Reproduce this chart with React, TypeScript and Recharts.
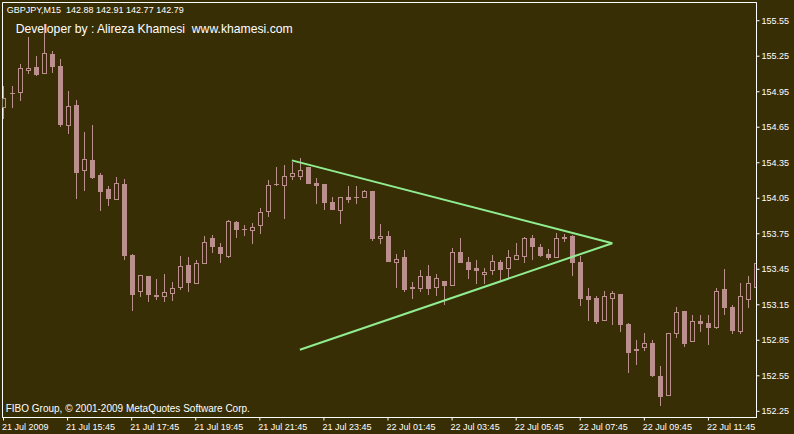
import { Bar, ComposedChart, ReferenceArea, ReferenceLine, XAxis, YAxis } from 'recharts'

const BG = '#382e06'
const CANDLE = '#bc8f8f'
const TREND = '#90ee90'
const FONT = '"Liberation Sans", Arial, sans-serif'

// GBPJPY M15, 21 Jul 2009 13:45 .. 22 Jul 2009 13:15
const opens = [
  154.82, 154.94, 154.95, 155.13, 155.16, 155.11, 155.27, 155.17, 154.67, 154.84,
  154.29, 154.37, 154.25, 154.13, 154.04, 154.17, 153.57, 153.27, 153.39, 153.23,
  153.22, 153.25, 153.3, 153.49, 153.33, 153.5, 153.71, 153.64, 153.56, 153.85,
  153.79, 153.78, 153.82, 153.94, 154.17, 154.16, 154.24, 154.24, 154.31, 154.18,
  154.17, 154.02, 153.95, 154.06, 154.06, 154.06, 154.11, 153.71, 153.73, 153.51,
  153.55, 153.3, 153.29, 153.39, 153.3, 153.35, 153.32, 153.6, 153.51, 153.46,
  153.41, 153.44, 153.51, 153.46, 153.54, 153.56, 153.71, 153.64, 153.58, 153.55,
  153.72, 153.73, 153.51, 153.22, 153.21, 153.02, 153.21, 153.24, 152.99, 152.78,
  152.79, 152.83, 152.55, 152.39, 152.91, 153.1, 152.84, 153.01, 153.0, 152.96,
  153.28, 153.13, 152.93, 153.2, 153.3,
]
const highs = [
  155.0, 155.0, 155.18, 155.41, 155.25, 155.52, 155.29, 155.23, 154.96, 154.88,
  154.61, 154.67, 154.26, 154.15, 154.23, 154.21, 153.58, 153.4, 153.39, 153.37,
  153.41, 153.34, 153.56, 153.55, 153.53, 153.73, 153.74, 153.67, 153.87, 153.86,
  153.82, 153.84, 153.97, 154.2, 154.31, 154.33, 154.36, 154.39, 154.31, 154.22,
  154.17, 154.06, 154.06, 154.15, 154.15, 154.12, 154.11, 153.83, 153.77, 153.58,
  153.61, 153.34, 153.44, 153.49, 153.41, 153.35, 153.63, 153.71, 153.55, 153.53,
  153.46, 153.57, 153.53, 153.61, 153.67, 153.72, 153.74, 153.66, 153.62, 153.76,
  153.75, 153.74, 153.56, 153.29, 153.22, 153.27, 153.27, 153.24, 153.0, 152.85,
  152.91, 152.85, 152.63, 152.91, 153.13, 153.1, 153.06, 153.06, 153.06, 153.29,
  153.45, 153.15, 153.33, 153.39, 153.63,
]
const lows = [
  154.73, 154.82, 154.88, 155.11, 155.09, 155.11, 155.12, 154.66, 154.6, 154.05,
  154.12, 154.22, 153.95, 153.99, 154.04, 153.54, 153.11, 153.22, 153.18, 153.2,
  153.18, 153.19, 153.28, 153.27, 153.33, 153.5, 153.6, 153.51, 153.55, 153.72,
  153.74, 153.67, 153.76, 153.9, 154.16, 153.88, 154.21, 154.21, 154.18, 154.01,
  153.96, 153.96, 153.84, 154.02, 154.01, 154.06, 153.7, 153.67, 153.52, 153.3,
  153.27, 153.21, 153.27, 153.24, 153.23, 153.16, 153.32, 153.51, 153.38, 153.33,
  153.33, 153.41, 153.36, 153.38, 153.54, 153.51, 153.54, 153.56, 153.54, 153.55,
  153.69, 153.4, 153.15, 153.02, 153.0, 153.02, 152.99, 152.93, 152.58, 152.65,
  152.77, 152.55, 152.3, 152.39, 152.88, 152.8, 152.84, 152.93, 152.82, 152.95,
  153.07, 152.91, 152.91, 153.13, 153.27,
]
const closes = [
  154.9, 154.94, 155.15, 155.15, 155.1, 155.28, 155.17, 154.68, 154.83, 154.27,
  154.38, 154.23, 154.11, 154.05, 154.18, 153.57, 153.24, 153.4, 153.24, 153.22,
  153.26, 153.29, 153.48, 153.34, 153.5, 153.68, 153.65, 153.59, 153.86, 153.79,
  153.79, 153.81, 153.93, 154.16, 154.17, 154.24, 154.26, 154.29, 154.18, 154.16,
  154.02, 153.96, 154.06, 154.04, 154.06, 154.11, 153.71, 153.73, 153.52, 153.54,
  153.28, 153.29, 153.39, 153.29, 153.38, 153.32, 153.6, 153.51, 153.45, 153.44,
  153.43, 153.52, 153.45, 153.55, 153.57, 153.71, 153.65, 153.57, 153.55, 153.71,
  153.71, 153.51, 153.21, 153.2, 153.01, 153.22, 153.25, 152.99, 152.75, 152.77,
  152.83, 152.56, 152.38, 152.91, 153.09, 152.83, 153.01, 153.0, 152.96, 153.27,
  153.13, 152.94, 153.22, 153.33, 153.5,
]

const timeTicks = [0, 8, 16, 24, 32, 40, 48, 56, 64, 72, 80, 88]
const timeLabels = [
  '21 Jul 2009', '21 Jul 15:45', '21 Jul 17:45', '21 Jul 19:45', '21 Jul 21:45', '21 Jul 23:45',
  '22 Jul 01:45', '22 Jul 03:45', '22 Jul 05:45', '22 Jul 07:45', '22 Jul 09:45', '22 Jul 11:45',
]
const priceTicks = [
  152.25, 152.55, 152.85, 153.15, 153.45, 153.75, 154.05, 154.35, 154.65, 154.95, 155.25, 155.55,
]

// hand drawn triangle
const upperTrend = [{ x: 36, y: 154.37 }, { x: 76, y: 153.67 }]
const lowerTrend = [{ x: 37, y: 152.77 }, { x: 76, y: 153.67 }]

const X_DOMAIN: [number, number] = [-0.125, 94]
const Y_DOMAIN: [number, number] = [152.1976, 155.7038]

const data = opens.map((open, i) => ({
  i,
  open,
  close: closes[i],
  high: highs[i],
  low: lows[i],
  range: [lows[i], highs[i]],
}))

function Candle(props: any) {
  const { x, y, width, height, payload } = props
  if (x == null || y == null || !payload) return null
  const { open, close, high, low } = payload
  const k = height / (high - low)
  const cx = Math.floor(x + width / 2) + 0.5
  const yO = y + (high - open) * k
  const yC = y + (high - close) * k
  const t = Math.round(Math.min(yO, yC))
  const b = Math.round(Math.max(yO, yC))
  const left = cx - 2.5
  const wick = (
    <line x1={cx} x2={cx} y1={Math.round(y)} y2={Math.round(y + height) + 1} stroke={CANDLE} strokeWidth={1} />
  )
  if (b - t < 1) {
    return (
      <g>
        {wick}
        <line x1={left} x2={left + 5} y1={t + 0.5} y2={t + 0.5} stroke={CANDLE} strokeWidth={1} />
      </g>
    )
  }
  if (close > open) {
    return (
      <g>
        {wick}
        <rect x={left + 0.5} y={t + 0.5} width={4} height={b - t} fill={BG} stroke={CANDLE} strokeWidth={1} />
      </g>
    )
  }
  return (
    <g>
      {wick}
      <rect x={left} y={t} width={5} height={b - t + 1} fill={CANDLE} />
    </g>
  )
}

function TimeTick(props: any) {
  const { x, y, payload } = props
  const idx = timeTicks.indexOf(payload.value)
  return (
    <text x={x - 1.5} y={y + 7.5} fill="#fff" fontSize={9} fontFamily={FONT} textAnchor="start">
      {idx >= 0 ? timeLabels[idx] : ''}
    </text>
  )
}

function PriceTick(props: any) {
  const { x, y, payload } = props
  return (
    <text x={x} y={y + 3.2} fill="#fff" fontSize={9} fontFamily={FONT} textAnchor="start">
      {Number(payload.value).toFixed(2)}
    </text>
  )
}

const overlay = (top: number, left: number, size: number) => ({
  position: 'absolute' as const,
  top,
  left,
  fontSize: size,
  lineHeight: 1,
  fontFamily: FONT,
  color: '#fff',
  whiteSpace: 'pre' as const,
})

export default function App() {
  return (
    <div style={{ position: 'absolute', left: 0, top: 0, width: 794, height: 434, background: BG, overflow: 'hidden' }}>
      <ComposedChart width={794} height={434} data={data} margin={{ top: 2.5, left: 2.5, right: 0, bottom: 0 }}>
        <XAxis
          dataKey="i"
          type="number"
          domain={X_DOMAIN}
          allowDataOverflow
          ticks={timeTicks}
          interval={0}
          height={16.5}
          tickSize={3}
          stroke="#fff"
          tickLine={{ stroke: '#fff' }}
          axisLine={{ stroke: '#fff' }}
          tick={<TimeTick />}
        />
        <YAxis
          orientation="right"
          type="number"
          domain={Y_DOMAIN}
          allowDataOverflow
          ticks={priceTicks}
          interval={0}
          width={37.5}
          tickSize={3}
          stroke="#fff"
          tickLine={{ stroke: '#fff' }}
          axisLine={{ stroke: '#fff' }}
          tick={<PriceTick />}
        />
        <ReferenceArea
          x1={X_DOMAIN[0]}
          x2={X_DOMAIN[1]}
          y1={Y_DOMAIN[0]}
          y2={Y_DOMAIN[1]}
          fill="none"
          stroke="#fff"
          strokeWidth={1}
        />
        <Bar dataKey="range" barSize={5} shape={<Candle />} isAnimationActive={false} />
        <ReferenceLine segment={upperTrend} stroke={TREND} strokeWidth={2} />
        <ReferenceLine segment={lowerTrend} stroke={TREND} strokeWidth={2} />
      </ComposedChart>
      <div style={overlay(5.7, 6.7, 9)}>GBPJPY,M15  142.88 142.91 142.77 142.79</div>
      <div style={overlay(23.1, 15.7, 12.2)}>Developer by : Alireza Khamesi  www.khamesi.com</div>
      <div style={overlay(403.8, 5.7, 10)}>FIBO Group, © 2001-2009 MetaQuotes Software Corp.</div>
    </div>
  )
}
